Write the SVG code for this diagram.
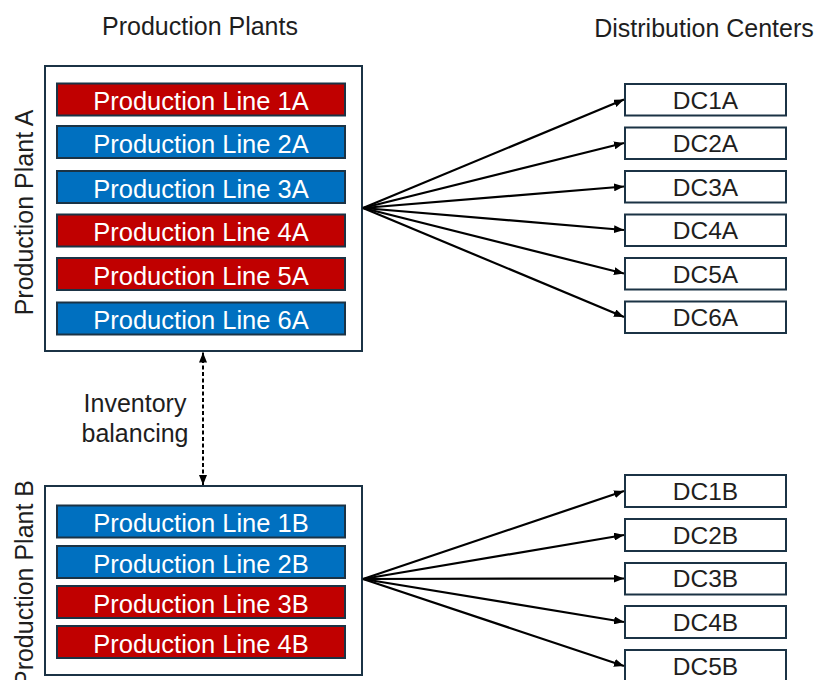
<svg xmlns="http://www.w3.org/2000/svg" width="818" height="680" viewBox="0 0 818 680">
  <style>
    .lbl { font-family: "Liberation Sans", Arial, sans-serif; font-size: 25px; fill: #1e1e1e; }
    .plant { fill: #ffffff; stroke: #1b3345; stroke-width: 2; }
    .line-red { fill: #c00000; stroke: #1b3345; stroke-width: 2; }
    .line-blue { fill: #0070c0; stroke: #1b3345; stroke-width: 2; }
    .line-txt { font-family: "Liberation Sans", Arial, sans-serif; font-size: 25.5px; fill: #ffffff; text-anchor: middle; }
    .dc { fill: #ffffff; stroke: #1b3345; stroke-width: 2; }
    .dc-txt { font-family: "Liberation Sans", Arial, sans-serif; font-size: 24.5px; fill: #1e1e1e; text-anchor: middle; }
    .flow { stroke: #000000; stroke-width: 2.2; fill: none; marker-end: url(#head); }
    .balance { stroke: #000000; stroke-width: 2; fill: none; stroke-dasharray: 4 2.5; marker-start: url(#head); marker-end: url(#head); }
  </style>
  <defs>
    <marker id="head" viewBox="0 0 10 8" refX="10" refY="4" markerWidth="10" markerHeight="8" markerUnits="userSpaceOnUse" orient="auto-start-reverse">
      <path d="M0,0 L10,4 L0,8 Z" fill="#000000"/>
    </marker>
  </defs>
  <rect width="818" height="680" fill="#ffffff"/>

  <!-- column headers -->
  <text class="lbl" x="200" y="35" text-anchor="middle">Production Plants</text>
  <text class="lbl" x="704" y="37" text-anchor="middle">Distribution Centers</text>

  <!-- plant A with its production lines -->
  <g id="plant-a">
    <rect class="plant" x="45" y="66" width="317" height="285"/>
    <text class="lbl" transform="translate(33,212.5) rotate(-90)" text-anchor="middle">Production Plant A</text>
    <g id="line-1a"><rect class="line-red" x="57" y="83.5" width="288" height="32"/><text class="line-txt" x="201" y="110">Production Line 1A</text></g>
    <g id="line-2a"><rect class="line-blue" x="57" y="126" width="288" height="32"/><text class="line-txt" x="201" y="152.5">Production Line 2A</text></g>
    <g id="line-3a"><rect class="line-blue" x="57" y="171" width="288" height="32"/><text class="line-txt" x="201" y="197.5">Production Line 3A</text></g>
    <g id="line-4a"><rect class="line-red" x="57" y="214.5" width="288" height="32"/><text class="line-txt" x="201" y="241">Production Line 4A</text></g>
    <g id="line-5a"><rect class="line-red" x="57" y="258" width="288" height="32"/><text class="line-txt" x="201" y="284.5">Production Line 5A</text></g>
    <g id="line-6a"><rect class="line-blue" x="57" y="302.5" width="288" height="32"/><text class="line-txt" x="201" y="329">Production Line 6A</text></g>
  </g>

  <!-- plant B with its production lines -->
  <g id="plant-b">
    <rect class="plant" x="45" y="486" width="317" height="189"/>
    <text class="lbl" transform="translate(33,583.5) rotate(-90)" text-anchor="middle">Production Plant B</text>
    <g id="line-1b"><rect class="line-blue" x="57" y="505.5" width="288" height="32"/><text class="line-txt" x="201" y="532">Production Line 1B</text></g>
    <g id="line-2b"><rect class="line-blue" x="57" y="546" width="288" height="32"/><text class="line-txt" x="201" y="572.5">Production Line 2B</text></g>
    <g id="line-3b"><rect class="line-red" x="57" y="586" width="288" height="32"/><text class="line-txt" x="201" y="612.5">Production Line 3B</text></g>
    <g id="line-4b"><rect class="line-red" x="57" y="626" width="288" height="32"/><text class="line-txt" x="201" y="652.5">Production Line 4B</text></g>
  </g>

  <!-- distribution centers served by plant A -->
  <g id="dc1a"><rect class="dc" x="625" y="84" width="161" height="31.5"/><text class="dc-txt" x="705.5" y="108.5">DC1A</text></g>
  <g id="dc2a"><rect class="dc" x="625" y="127.5" width="161" height="31.5"/><text class="dc-txt" x="705.5" y="152">DC2A</text></g>
  <g id="dc3a"><rect class="dc" x="625" y="171" width="161" height="31.5"/><text class="dc-txt" x="705.5" y="195.5">DC3A</text></g>
  <g id="dc4a"><rect class="dc" x="625" y="214.5" width="161" height="31.5"/><text class="dc-txt" x="705.5" y="239">DC4A</text></g>
  <g id="dc5a"><rect class="dc" x="625" y="258" width="161" height="31.5"/><text class="dc-txt" x="705.5" y="282.5">DC5A</text></g>
  <g id="dc6a"><rect class="dc" x="625" y="301.5" width="161" height="31.5"/><text class="dc-txt" x="705.5" y="326">DC6A</text></g>

  <!-- distribution centers served by plant B -->
  <g id="dc1b"><rect class="dc" x="625" y="475" width="161" height="32"/><text class="dc-txt" x="705.5" y="499.5">DC1B</text></g>
  <g id="dc2b"><rect class="dc" x="625" y="519" width="161" height="32"/><text class="dc-txt" x="705.5" y="543.5">DC2B</text></g>
  <g id="dc3b"><rect class="dc" x="625" y="563" width="161" height="31.5"/><text class="dc-txt" x="705.5" y="587">DC3B</text></g>
  <g id="dc4b"><rect class="dc" x="625" y="606" width="161" height="32"/><text class="dc-txt" x="705.5" y="630.5">DC4B</text></g>
  <g id="dc5b"><rect class="dc" x="625" y="650" width="161" height="32"/><text class="dc-txt" x="705.5" y="674.5">DC5B</text></g>

  <!-- inventory balancing label -->
  <g id="balance-label">
    <text class="lbl" x="135" y="412" text-anchor="middle" font-size="23">Inventory</text>
    <text class="lbl" x="135" y="442" text-anchor="middle" font-size="23">balancing</text>
  </g>

  <!-- connectors -->
  <g id="connectors">
    <line class="flow" x1="363" y1="208" x2="624" y2="99.5"/>
    <line class="flow" x1="363" y1="208" x2="624" y2="143"/>
    <line class="flow" x1="363" y1="208" x2="624" y2="186.5"/>
    <line class="flow" x1="363" y1="208" x2="624" y2="230"/>
    <line class="flow" x1="363" y1="208" x2="624" y2="273.5"/>
    <line class="flow" x1="363" y1="208" x2="624" y2="317"/>

    <line class="flow" x1="363" y1="579" x2="624" y2="491"/>
    <line class="flow" x1="363" y1="579" x2="624" y2="535"/>
    <line class="flow" x1="363" y1="579" x2="624" y2="578.5"/>
    <line class="flow" x1="363" y1="579" x2="624" y2="622"/>
    <line class="flow" x1="363" y1="579" x2="624" y2="666"/>

    <line class="balance" x1="203" y1="352.5" x2="203" y2="485"/>
  </g>
</svg>
